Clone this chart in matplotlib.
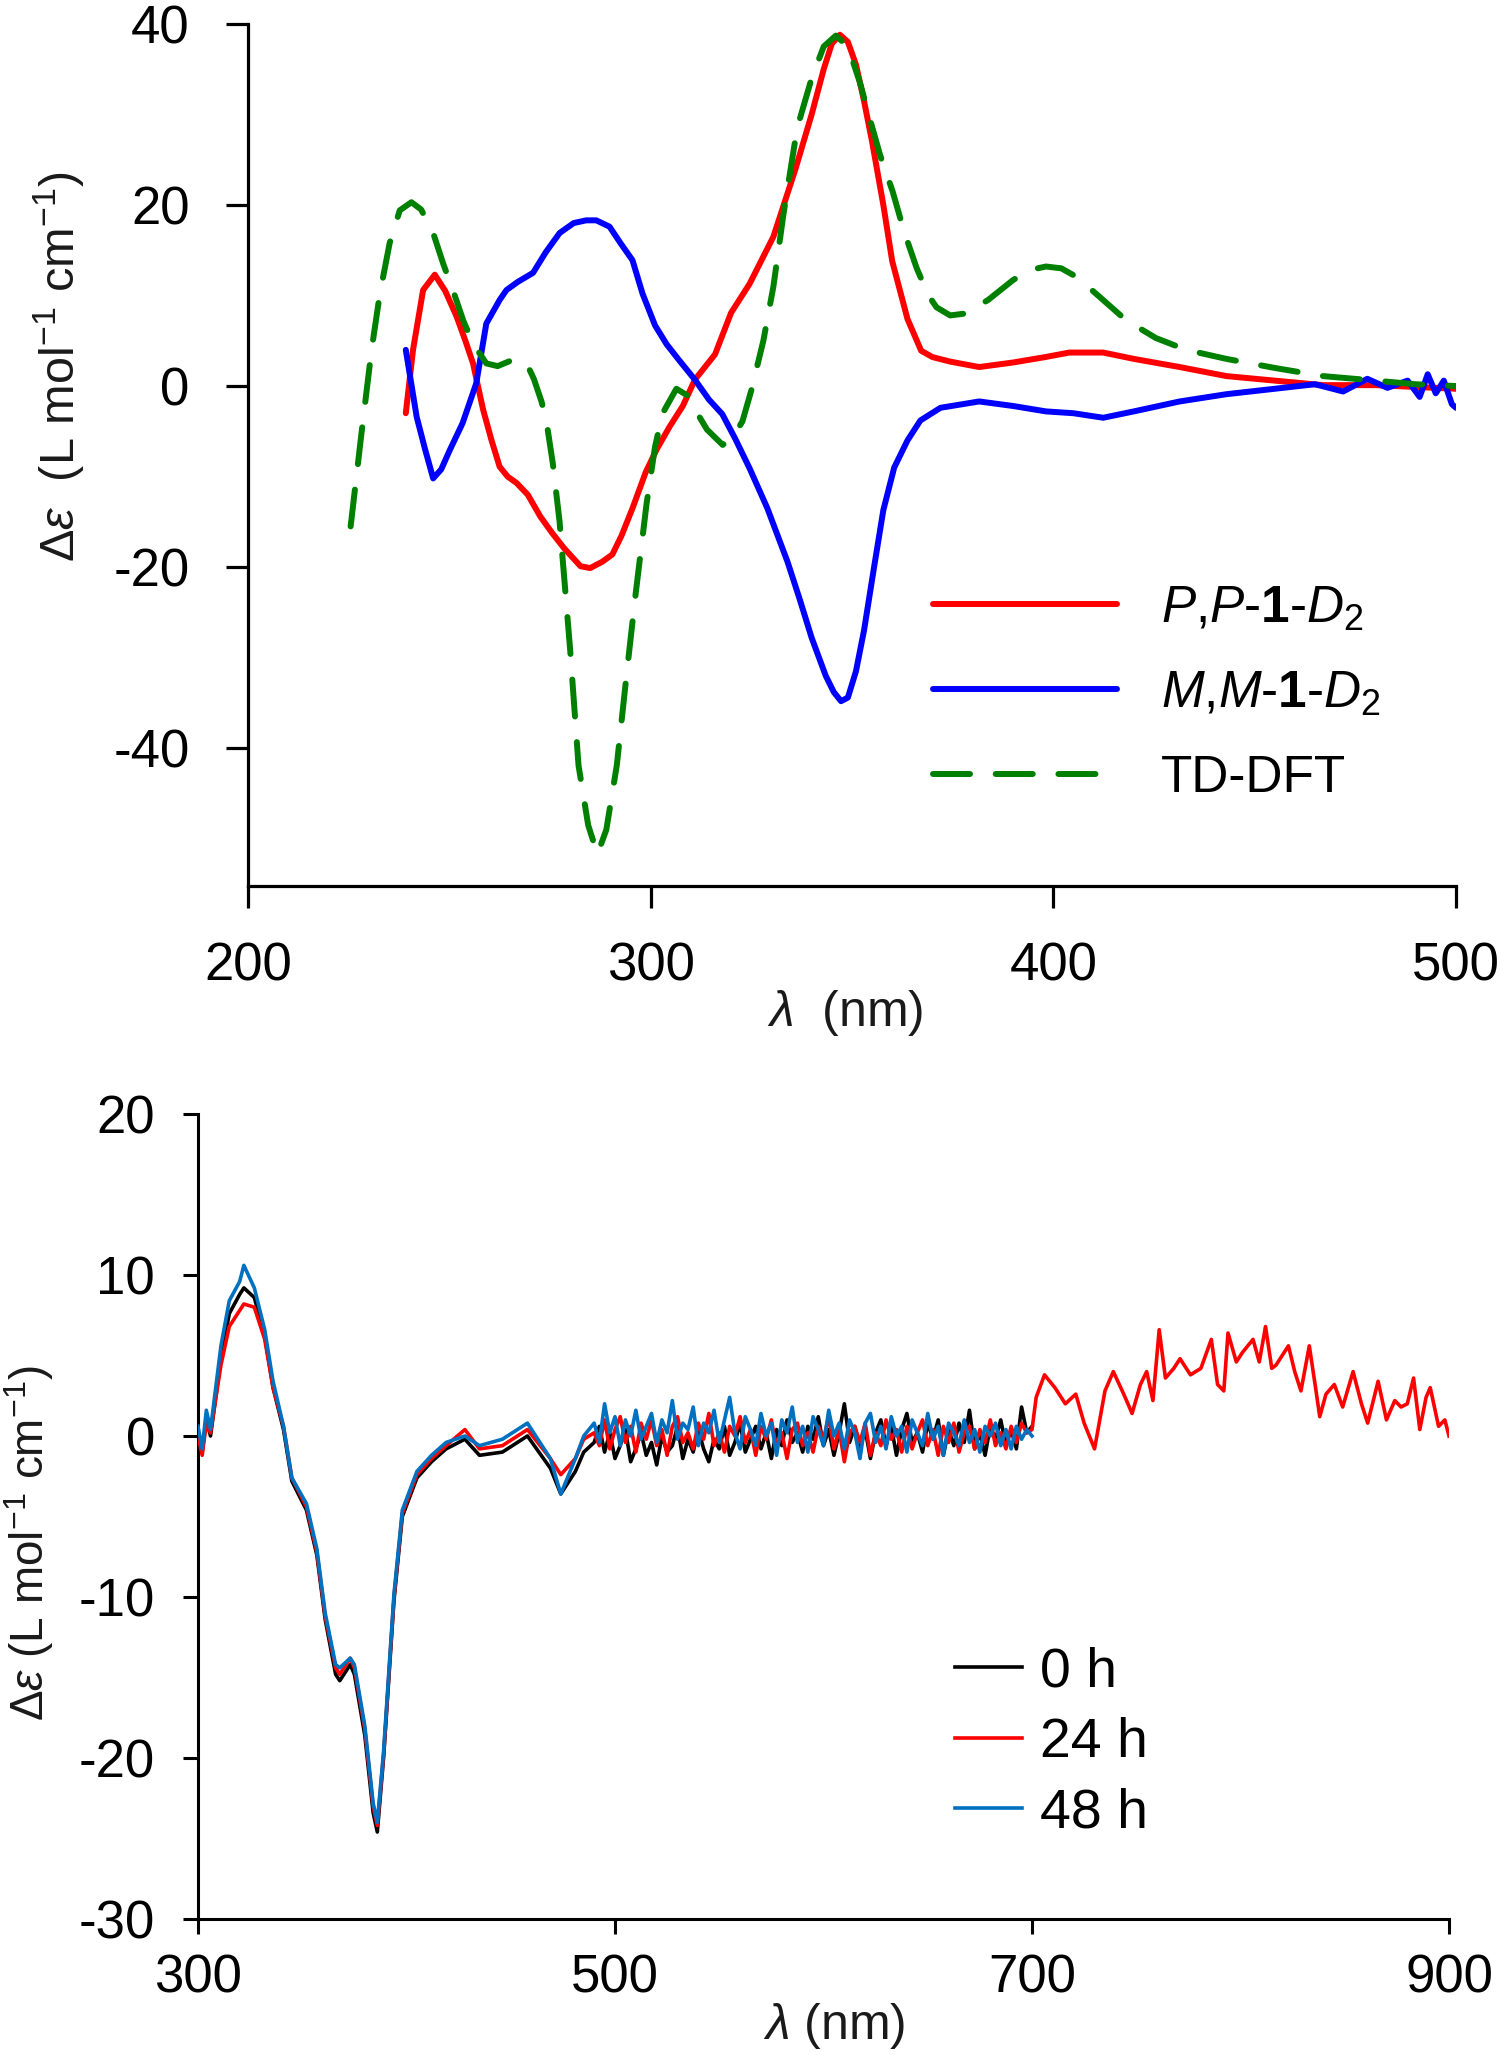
import matplotlib
matplotlib.use("Agg")
import matplotlib.pyplot as plt

plt.rcParams['font.family'] = ['Liberation Sans', 'DejaVu Sans']
plt.rcParams['mathtext.fontset'] = 'custom'
plt.rcParams['mathtext.rm'] = 'Liberation Sans'
plt.rcParams['mathtext.it'] = 'Liberation Sans:italic'
plt.rcParams['mathtext.bf'] = 'Liberation Sans:bold'
plt.rcParams['axes.unicode_minus'] = False

# ---------------- top panel data ----------------
wl_pp = [239.2, 241.0, 243.5, 246.4, 249.0, 251.8, 254.0, 255.9, 258.4, 260.5, 262.5, 264.5,
         266.7, 269.5, 272.6, 275.5, 278.5, 282.6, 285.0, 288.0, 290.5, 292.8, 295.5,
         298.8, 301.5, 304.7, 308.0, 311.0, 316.0, 320.0, 324.6, 330.5, 336.0, 340.0,
         343.0, 345.0, 347.0, 349.0, 351.0, 353.0, 355.0, 357.8, 360.0, 363.8, 367.2,
         370.0, 374.4, 381.6, 390.0, 398.0, 404.0, 412.4, 420.0, 431.4, 443.0, 455.0,
         467.0, 480.0, 490.0, 500.0]
de_pp = [-3.0, 4.0, 10.6, 12.3, 10.5, 7.7, 5.0, 2.5, -2.6, -6.0, -8.9, -10.0,
         -10.7, -12.0, -14.4, -16.2, -17.9, -19.9, -20.1, -19.4, -18.6, -16.5, -13.5,
         -9.5, -7.0, -4.5, -2.2, 0.7, 3.5, 8.1, 11.3, 16.5, 24.0, 30.0,
         35.0, 37.8, 38.8, 38.0, 35.5, 31.5, 27.0, 20.0, 13.8, 7.4, 3.9,
         3.2, 2.7, 2.1, 2.6, 3.2, 3.7, 3.7, 3.0, 2.1, 1.1, 0.6,
         0.1, 0.1, -0.1, -0.3]

wl_mm = [239.2, 241.9, 244.0, 246.0, 248.0, 250.1, 253.3, 256.7, 259.2, 262.5, 264.2,
         267.0, 270.8, 274.0, 277.4, 280.9, 284.0, 286.5, 289.8, 292.5, 295.5, 298.0,
         301.1, 304.0, 307.0, 311.0, 314.5, 317.8, 321.0, 324.6, 329.0, 334.0, 337.0,
         340.0, 343.5, 345.5, 347.3, 349.0, 351.0, 353.0, 355.5, 357.8, 360.5, 363.8,
         367.0, 372.0, 381.6, 390.0, 398.2, 405.0, 412.4, 420.0, 431.4, 443.0, 455.0,
         465.0, 472.0, 478.0, 483.0, 488.0, 491.0, 493.0, 495.0, 497.0, 499.0, 500.0]
de_mm = [4.0, -3.4, -7.0, -10.2, -9.2, -7.1, -4.1, 0.3, 6.9, 9.5, 10.6,
         11.5, 12.5, 14.8, 16.9, 18.0, 18.3, 18.3, 17.6, 15.8, 13.9, 10.2,
         6.7, 4.6, 2.9, 0.7, -1.5, -3.1, -5.8, -9.1, -13.5, -19.4, -23.5,
         -27.8, -32.0, -33.8, -34.8, -34.4, -31.5, -27.0, -20.0, -13.7, -9.0, -6.0,
         -3.8, -2.4, -1.7, -2.2, -2.8, -3.0, -3.5, -2.8, -1.7, -0.9, -0.3,
         0.2, -0.6, 0.8, -0.2, 0.6, -1.2, 1.3, -0.8, 0.6, -2.0, -2.4]

wl_dft = [225.5, 228.2, 230.7, 232.8, 235.2, 237.7, 240.6, 243.0, 246.0, 248.5, 250.9,
          253.5, 255.9, 259.2, 262.0, 265.8, 269.2, 271.0, 272.9, 274.1, 275.7, 277.4,
          280.0, 282.1, 284.5, 286.8, 289.0, 291.6, 294.0, 296.3, 299.0, 301.1, 303.0,
          306.4, 309.0, 311.3, 314.0, 317.9, 320.5, 322.8, 325.0, 328.0, 330.5, 333.0,
          336.4, 340.0, 343.0, 346.0, 349.0, 352.0, 354.2, 357.0, 360.1, 363.0, 366.1,
          369.0, 371.0, 374.4, 378.0, 383.8, 390.0, 394.0, 398.2, 402.0, 406.0, 412.4,
          418.0, 425.5, 433.0, 443.0, 455.0, 467.0, 480.0, 490.0, 500.0]
de_dft = [-15.5, -5.2, 4.0, 10.3, 15.8, 19.4, 20.3, 19.5, 16.9, 13.5, 10.6,
          7.2, 4.7, 2.5, 2.2, 2.9, 2.5, 0.8, -1.7, -3.8, -8.5, -15.0,
          -29.0, -41.9, -48.5, -51.7, -49.0, -41.9, -32.0, -22.9, -13.0, -6.7, -3.0,
          -0.3, -1.0, -2.8, -4.8, -6.5, -5.6, -3.9, -0.5, 5.0, 11.0, 19.0,
          28.5, 34.0, 37.5, 38.7, 37.5, 33.5, 29.9, 25.5, 21.5, 17.0, 13.0,
          10.0, 8.7, 7.8, 8.0, 9.5, 11.7, 12.8, 13.2, 13.0, 12.0, 9.5,
          7.3, 5.3, 4.0, 3.0, 2.0, 1.1, 0.6, 0.2, 0.0]

top_labels = [r"$P$,$P$-$\mathbf{1}$-$D_2$", r"$M$,$M$-$\mathbf{1}$-$D_2$", "TD-DFT"]
top_xticks = [200, 300, 400, 500]
top_yticks = [-40, -20, 0, 20, 40]

# ---------------- bottom panel data ----------------
wl_band = [300, 302, 304, 306, 311, 315, 320, 322, 327, 332,
           336, 341, 345, 352, 357, 361, 366, 368, 373, 375,
           380, 384, 386, 389, 394, 398, 405, 412, 419, 428,
           435, 446, 458, 469, 474, 481, 485]
wl_noise = [490 + 2.5 * i for i in range(85)]          # 490 ... 700 nm
wl_short = wl_band + wl_noise

de_0h = [0.2, -1.0, 1.0, 0.0, 4.8, 7.6, 8.8, 9.2, 8.6, 6.2,
         3.0, 0.4, -2.8, -4.6, -7.4, -11.4, -14.8, -15.2, -14.2, -14.8,
         -18.6, -23.4, -24.6, -20.0, -10.2, -5.0, -2.6, -1.6, -0.8, -0.2,
         -1.2, -1.0, 0.0, -2.0, -3.6, -2.2, -1.0,
         -0.4, 0.6, -1.0, 0.2, -1.4, -0.6, 0.4, -1.6, -0.8, 0.2,
         -1.2, -0.4, -1.8, 0.0, -1.0, -0.6, 0.6, -1.4, -0.2, -1.0,
         0.4, -0.8, -1.6, -0.2, -0.8, 0.6, -1.2, -0.4, 0.8, -1.0,
         -0.2, 0.6, -0.8, 0.2, -1.4, 0.4, -0.6, 1.0, -0.4, 0.2,
         -1.0, 0.6, -0.2, 1.2, -0.6, 0.4, -1.2, 0.2, 2.0, -0.4,
         0.6, -0.8, 0.4, -1.4, 0.2, 1.0, -0.6, 0.6, -1.2, 0.4,
         1.4, -0.4, 0.2, -1.0, 0.8, -0.2, 1.0, -1.2, 0.4, -0.6,
         0.8, -0.4, 1.6, -0.8, 0.2, -1.2, 0.6, -0.2, 1.0, -0.6,
         0.4, -0.8, 1.8, 0.2, 0.6]
de_48h = [0.6, -0.8, 1.6, 0.4, 5.6, 8.4, 9.6, 10.6, 9.2, 6.6,
          3.4, 0.6, -2.6, -4.2, -7.0, -11.0, -14.2, -14.4, -13.8, -14.2,
          -18.0, -22.8, -24.0, -19.6, -9.8, -4.6, -2.2, -1.2, -0.4, 0.0,
          -0.6, -0.2, 0.8, -1.4, -3.6, -1.4, 0.0,
          0.8, -0.4, 2.0, 0.2, 1.2, -0.6, 1.0, 0.0, 1.6, -0.2,
          0.6, 1.4, -0.4, 1.0, 0.2, 2.2, -0.2, 0.8, 0.4, 1.8,
          -0.6, 0.8, 0.2, 1.6, -0.4, 1.0, 2.4, 0.2, -0.8, 1.2,
          0.4, -0.6, 1.4, 0.0, 0.8, -1.2, 1.0, 0.2, 1.8, -0.4,
          0.6, -1.0, 1.2, 0.4, -0.6, 1.6, 0.0, 0.8, -0.8, 1.0,
          0.2, -1.4, 0.8, 1.4, -0.4, 0.6, -0.8, 1.2, 0.0, 0.6,
          -1.0, 1.0, 0.2, -0.6, 1.4, -0.2, 0.6, -1.2, 0.8, 0.2,
          -0.6, 1.0, -0.4, 0.4, -1.0, 0.6, 0.0, 0.8, -0.6, 0.4,
          -0.8, 0.6, -0.2, 0.4, 0.0]
wl_24h = wl_short + [702, 706, 711, 716, 721, 725, 730, 735, 739, 744,
                     748, 752, 755, 758, 761, 764, 768, 771, 776, 781,
                     786, 789, 792, 794, 798, 801, 806, 809, 812, 815,
                     817, 820, 823, 826, 829, 833, 836, 838, 841, 845,
                     849, 854, 858, 861, 866, 870, 874, 877, 880, 883,
                     886, 889, 891, 895, 898, 900]
de_24h = [0.0, -1.2, 0.8, 0.2, 4.4, 6.8, 7.8, 8.2, 8.0, 6.0,
          3.0, 0.6, -2.6, -4.4, -7.2, -11.2, -14.4, -14.8, -13.8, -14.4,
          -18.2, -23.0, -24.2, -19.8, -10.0, -4.8, -2.4, -1.4, -0.6, 0.4,
          -0.8, -0.6, 0.4, -1.4, -2.4, -1.4, -0.2,
          0.2, -0.6, 1.0, -0.8, 0.4, 1.2, -0.4, 0.6, -1.0, 0.8,
          -0.2, 1.0, -0.6, 0.4, -1.2, 0.6, 1.2, -0.4, 0.2, -0.8,
          0.8, -0.2, 1.4, -0.6, 0.2, -1.0, 0.6, 0.0, 1.2, -0.4,
          0.4, -1.2, 0.6, -0.2, 1.0, -0.8, 0.2, -1.4, 0.4, 0.8,
          -0.6, 0.2, -1.0, 0.6, -0.2, 1.2, -0.8, 0.4, -1.6, 0.2,
          0.6, -0.4, 0.8, -1.2, 0.2, -0.6, 1.0, -0.2, 0.4, -1.0,
          0.6, -0.8, 0.2, 1.0, -0.6, 0.4, -1.2, 0.6, -0.4, 0.8,
          -1.0, 0.2, 0.6, -0.8, 0.4, -0.4, 1.0, -0.6, 0.2, -0.8,
          0.6, -0.4, 0.8, 0.2, 0.4,
          2.4, 3.8, 3.0, 2.0, 2.6, 0.8, -0.8, 2.8, 4.0, 2.6,
          1.4, 3.2, 4.0, 2.2, 6.6, 3.6, 4.2, 4.8, 3.8, 4.2,
          6.0, 3.2, 2.8, 6.4, 4.6, 5.2, 6.0, 4.6, 6.8, 4.2,
          4.4, 5.0, 5.6, 4.0, 2.8, 5.6, 3.0, 1.2, 2.6, 3.2,
          1.8, 4.0, 2.0, 0.8, 3.4, 1.0, 2.2, 1.8, 2.0, 3.6,
          0.4, 2.4, 3.0, 0.6, 1.0, 0.0]
bottom_labels = ["0 h", "24 h", "48 h"]
bottom_xticks = [300, 500, 700, 900]
bottom_yticks = [-30, -20, -10, 0, 10, 20]

# ---------------- figure ----------------
fig = plt.figure(figsize=(15, 20.55), dpi=100)

ax1 = fig.add_axes([0.1653, 0.5689, 0.8053, 0.4195])
l1, = ax1.plot(wl_pp, de_pp, color='#ff0000', lw=4.3, solid_capstyle='round',
               solid_joinstyle='round', zorder=2)
l2, = ax1.plot(wl_mm, de_mm, color='#0000ff', lw=4.3, solid_capstyle='round',
               solid_joinstyle='round', zorder=3)
l3, = ax1.plot(wl_dft, de_dft, color='#008000', lw=4.3, dashes=(6.2, 4.3),
               dash_capstyle='round', dash_joinstyle='round', zorder=4)
ax1.set_xlim(200, 500)
ax1.set_ylim(-55.2, 40)
ax1.set_xticks(top_xticks)
ax1.set_yticks(top_yticks)
for s in ['top', 'right']:
    ax1.spines[s].set_visible(False)
for s in ['left', 'bottom']:
    ax1.spines[s].set_linewidth(2.3)
ax1.tick_params(axis='both', direction='out', length=16, width=2.3, labelsize=38)
ax1.tick_params(axis='y', pad=26)
ax1.tick_params(axis='x', pad=24)
ax1.legend([l1, l2, l3], top_labels, loc='upper left',
           bbox_to_anchor=(0.567, 0.350), frameon=False, fontsize=37,
           handlelength=3.58, handletextpad=0.85, labelspacing=0.7,
           borderaxespad=0, borderpad=0)
fig.text(59 / 1500, 1 - 367 / 2055,
         r"$\Delta\varepsilon$  (L mol$^{-1}$ cm$^{-1}$)",
         rotation=90, ha='center', va='center', fontsize=35, color='#1a1a1a')
fig.text(845 / 1500, 1 - 1013 / 2055, r"$\lambda$  (nm)",
         ha='center', va='center', fontsize=36, color='#1a1a1a')

ax2 = fig.add_axes([0.132, 0.0662, 0.834, 0.3917])
b1, = ax2.plot(wl_short, de_0h, color='#000000', lw=2.6, zorder=2)
b2, = ax2.plot(wl_24h, de_24h, color='#ff0000', lw=2.6, zorder=3)
b3, = ax2.plot(wl_short, de_48h, color='#0070c0', lw=2.6, zorder=4)
ax2.set_xlim(300, 900)
ax2.set_ylim(-30, 20)
ax2.set_xticks(bottom_xticks)
ax2.set_yticks(bottom_yticks)
for s in ['top', 'right']:
    ax2.spines[s].set_visible(False)
for s in ['left', 'bottom']:
    ax2.spines[s].set_linewidth(2.2)
ax2.tick_params(axis='both', direction='out', length=11, width=2.2, labelsize=38)
ax2.tick_params(axis='y', pad=20)
ax2.tick_params(axis='x', pad=14)
ax2.legend([b1, b2, b3], bottom_labels, loc='upper left',
           bbox_to_anchor=(0.605, 0.338), frameon=False, fontsize=40,
           handlelength=1.2, handletextpad=0.34, labelspacing=0.33,
           borderaxespad=0, borderpad=0)
fig.text(29 / 1500, 1 - 1543 / 2055,
         r"$\Delta\varepsilon$ (L mol$^{-1}$ cm$^{-1}$)",
         rotation=90, ha='center', va='center', fontsize=33, color='#1a1a1a')
fig.text(834 / 1500, 1 - 2026 / 2055, r"$\lambda$ (nm)",
         ha='center', va='center', fontsize=36, color='#1a1a1a')

fig.savefig("out.png", dpi=100)
